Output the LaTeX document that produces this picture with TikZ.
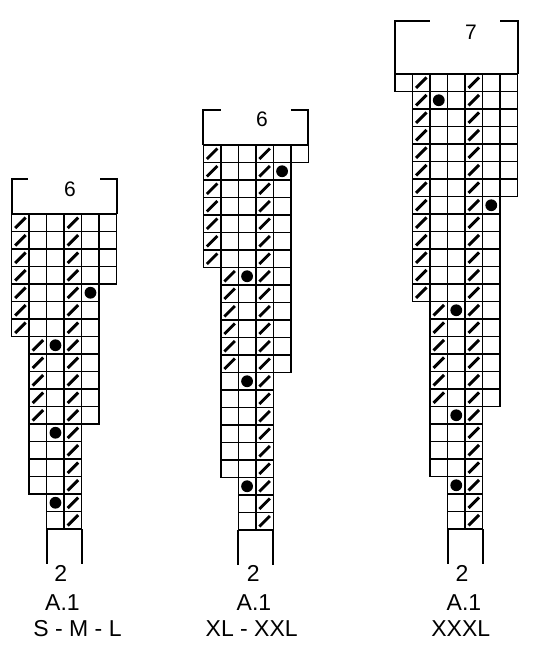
\documentclass[tikz,border=0pt]{standalone}
\usepackage{fontspec}
\setmainfont{Liberation Sans}
\begin{document}
\begin{tikzpicture}[x = 1pt, y = -1pt,
        cell/.style = {line width = 1.5pt},
        frame/.style = {line width = 2pt},
        slash/.style = {line width = 2.9pt},
        knot/.style = {fill = black}]
            \useasboundingbox (0,0) rectangle (533,650);
            \begin{scope}[shift = {(11.7,214)}, x = 17.5pt, y = -17.5pt]
                \foreach \ka/\kb/\ca/\cb in {0/3/0/5, 4/6/0/4, 7/11/1/4, 12/15/1/3, 16/17/2/3}
                    \foreach \k in {\ka,...,\kb}
                        \foreach \c in {\ca,...,\cb}
                            \draw[cell] (\c,\k) rectangle ++(1,1);
                \foreach \c/\ka/\kb in {0/0/6, 1/7/11, 3/0/17}
                    \foreach \k in {\ka,...,\kb}
                        \draw[slash] (\c+0.2,\k+0.8) -- (\c+0.8,\k+0.2);
                \foreach \c/\k in {4/4, 2/7, 2/12, 2/16}
                    \fill[knot] (\c+0.5,\k+0.5) circle[radius = 5.9pt];
                \draw[frame] (0,0) -- (0,-2) -- (0.95,-2);
                \draw[frame] (5.05,-2) -- (6,-2) -- (6,0);
                \draw[frame] (2,18) -- (2,20);
                \draw[frame] (4,18) -- (4,20);
            \end{scope}
            \begin{scope}[shift = {(203.3,145)}, x = 17.5pt, y = -17.5pt]
                \foreach \ka/\kb/\ca/\cb in {0/0/0/5, 1/6/0/4, 7/12/1/4, 13/18/1/3, 19/21/2/3}
                    \foreach \k in {\ka,...,\kb}
                        \foreach \c in {\ca,...,\cb}
                            \draw[cell] (\c,\k) rectangle ++(1,1);
                \foreach \c/\ka/\kb in {0/0/6, 1/7/12, 3/0/21}
                    \foreach \k in {\ka,...,\kb}
                        \draw[slash] (\c+0.2,\k+0.8) -- (\c+0.8,\k+0.2);
                \foreach \c/\k in {4/1, 2/7, 2/13, 2/19}
                    \fill[knot] (\c+0.5,\k+0.5) circle[radius = 5.9pt];
                \draw[frame] (0,0) -- (0,-2) -- (1,-2);
                \draw[frame] (5,-2) -- (6,-2) -- (6,0);
                \draw[frame] (2,22) -- (2,24);
                \draw[frame] (4,22) -- (4,24);
            \end{scope}
            \begin{scope}[shift = {(395,74)}, x = 17.5pt, y = -17.5pt]
                \foreach \ka/\kb/\ca/\cb in {0/0/0/6, 1/6/1/6, 7/12/1/5, 13/18/2/5, 19/22/2/4, 23/25/3/4}
                    \foreach \k in {\ka,...,\kb}
                        \foreach \c in {\ca,...,\cb}
                            \draw[cell] (\c,\k) rectangle ++(1,1);
                \foreach \c/\ka/\kb in {1/0/12, 2/13/18, 4/0/25}
                    \foreach \k in {\ka,...,\kb}
                        \draw[slash] (\c+0.2,\k+0.8) -- (\c+0.8,\k+0.2);
                \foreach \c/\k in {2/1, 5/7, 3/13, 3/19, 3/23}
                    \fill[knot] (\c+0.5,\k+0.5) circle[radius = 5.9pt];
                \draw[frame] (0,0) -- (0,-3) -- (2,-3);
                \draw[frame] (6,-3) -- (7,-3) -- (7,0);
                \draw[frame] (3,26) -- (3,28);
                \draw[frame] (5,26) -- (5,28);
            \end{scope}
            \begin{scope}[every node/.append style = {inner sep = 0pt, anchor = base, font = \fontsize{21}{21}\selectfont}]
                \node (rep1) at (70,196.7) {6};
                \node (rep2) at (262,126.7) {6};
                \node (rep3) at (471,40) {7};
            \end{scope}
            \begin{scope}[every node/.append style = {inner sep = 0pt, anchor = base, font = \fontsize{23}{23}\selectfont}]
                \node (st1) at (60.8,581.7) {2};
                \node (st2) at (253.3,581.7) {2};
                \node (st3) at (462,581.7) {2};
                \node (name1) at (62.5,610.5) {A.1};
                \node (name2) at (254,610.5) {A.1};
                \node (name3) at (464,610.5) {A.1};
                \node (size1) at (77.5,636.7) {S - M - L};
                \node (size2) at (251.7,636.7) {XL - XXL};
                \node (size3) at (460.8,636.7) {XXXL};
            \end{scope}
        \end{tikzpicture}
\end{document}
